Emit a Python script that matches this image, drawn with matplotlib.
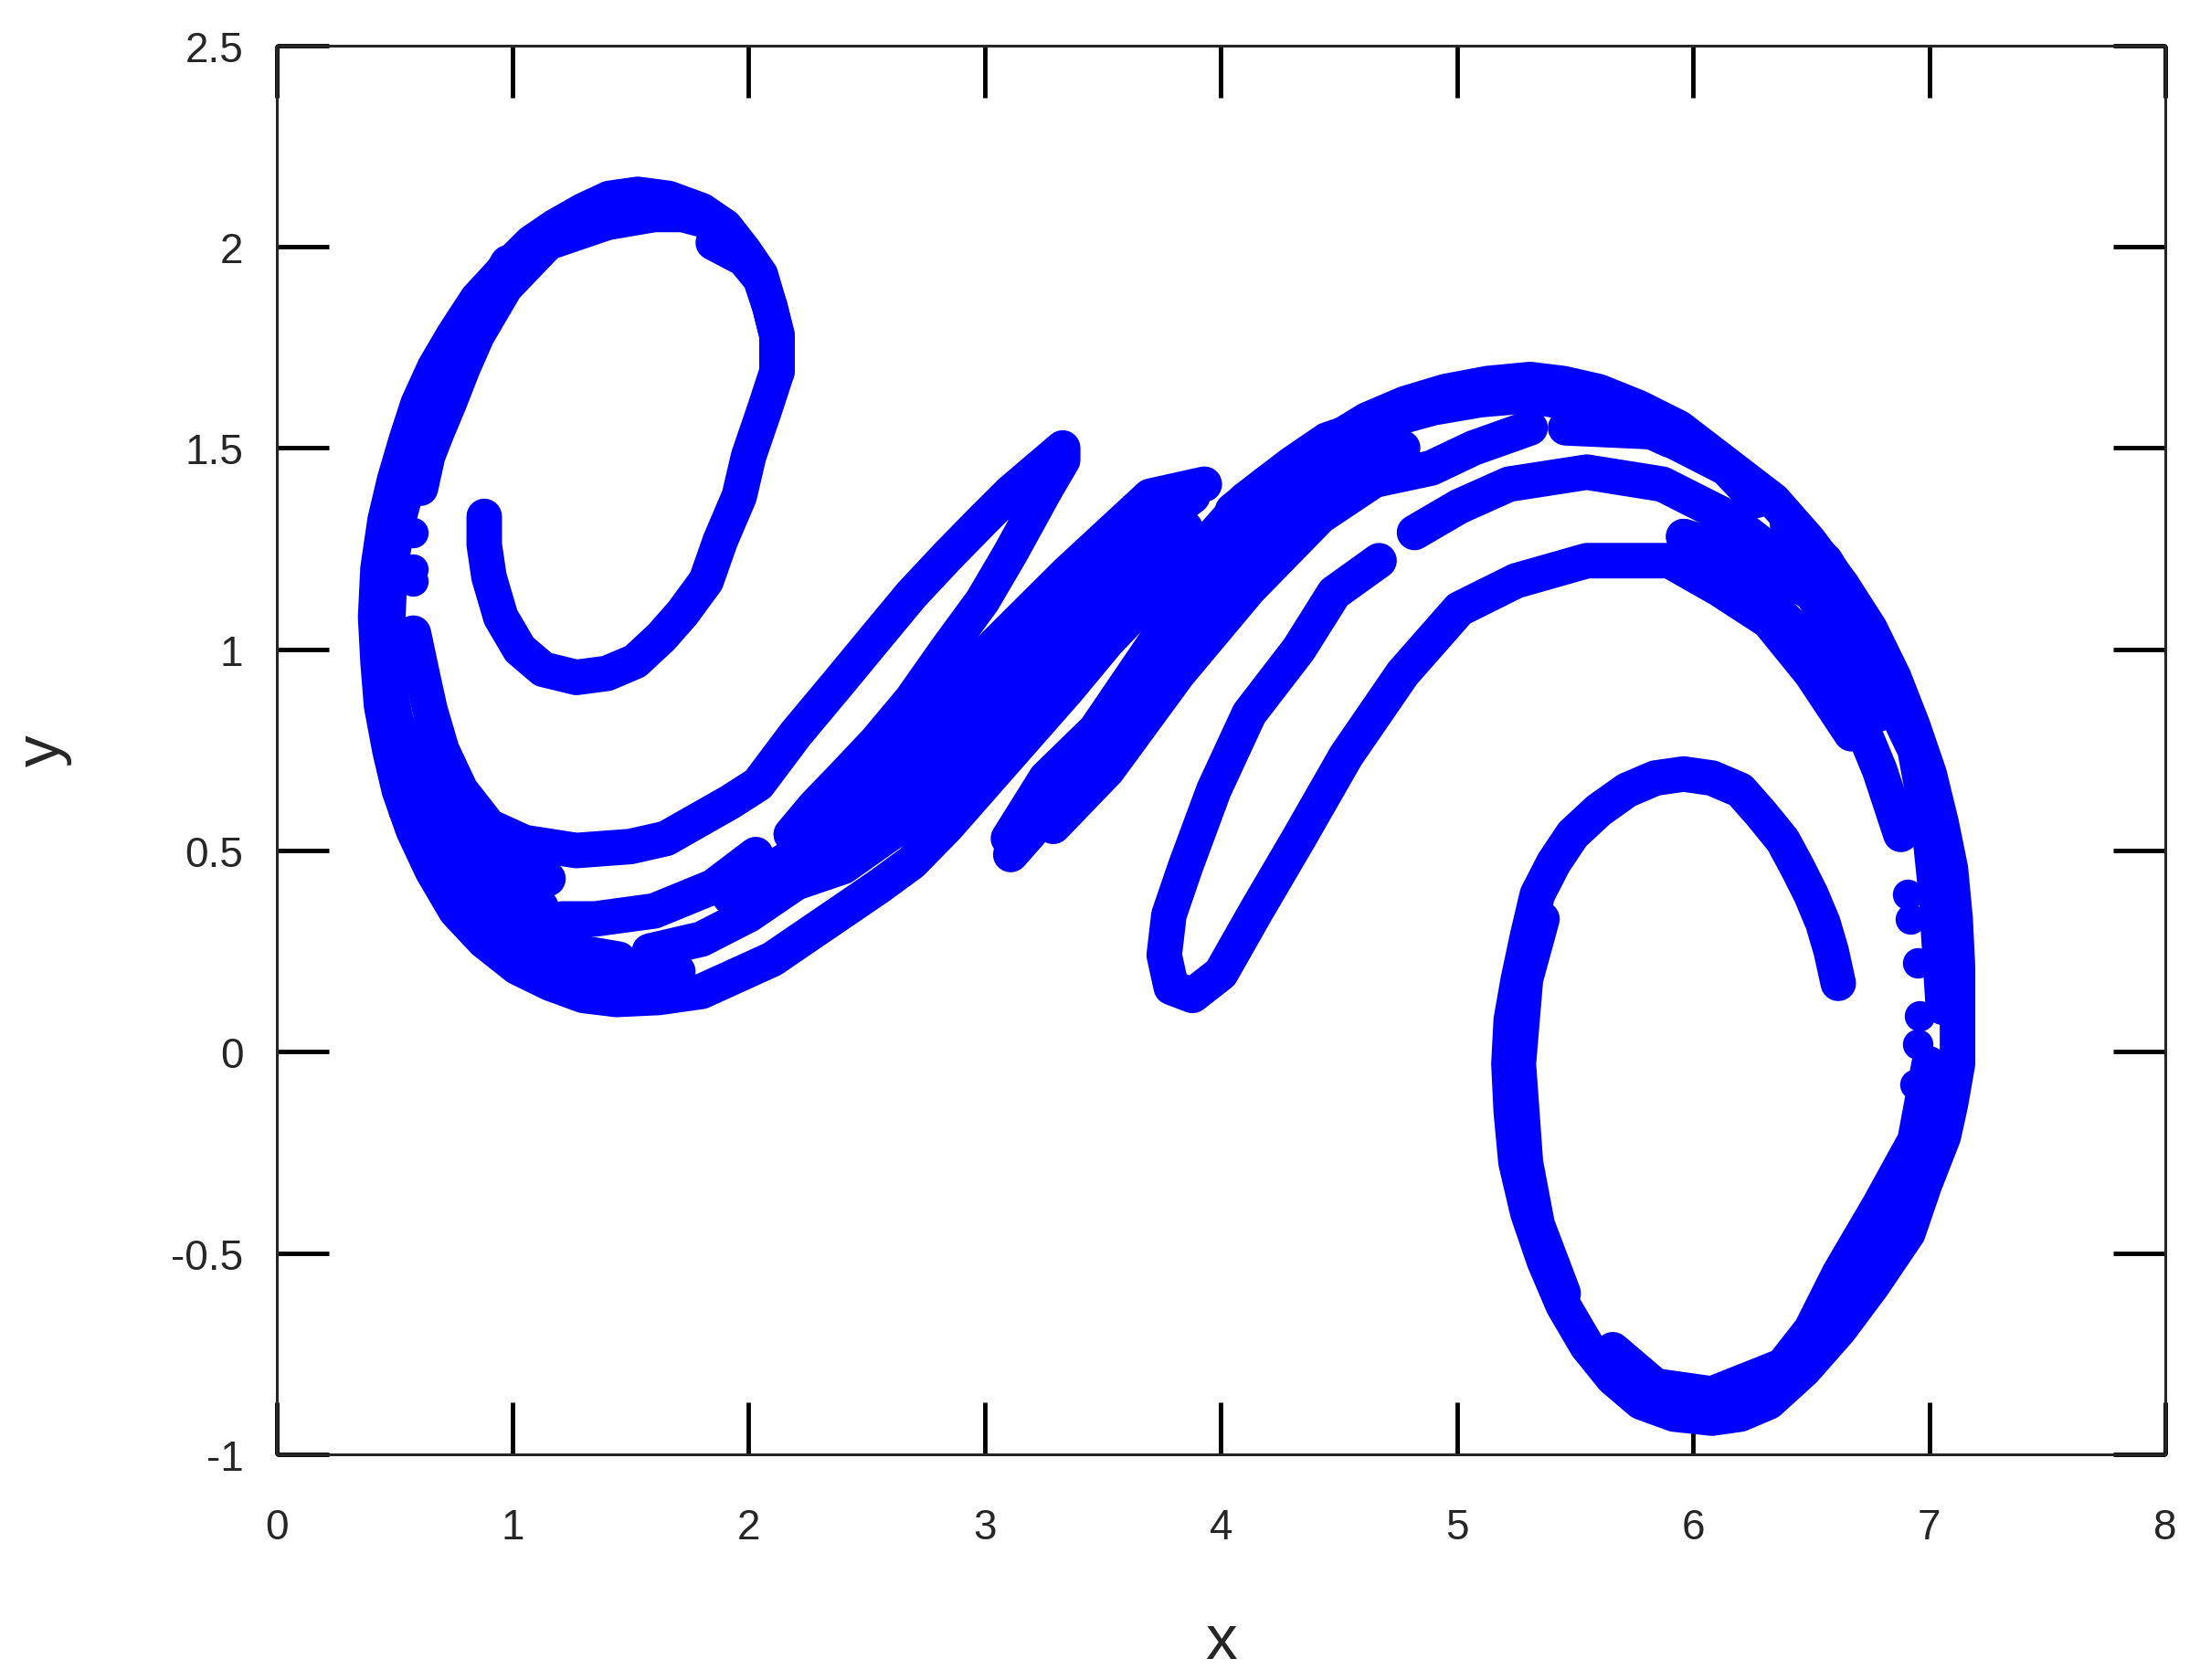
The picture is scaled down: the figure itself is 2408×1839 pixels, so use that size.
import matplotlib
matplotlib.use("Agg")
import matplotlib.pyplot as plt

plt.rcParams['font.family'] = ['Liberation Sans', 'DejaVu Sans']

xticks = [0, 1, 2, 3, 4, 5, 6, 7, 8]
yticks = [-1, -0.5, 0, 0.5, 1, 1.5, 2, 2.5]
ytick_labels = ["-1", "-0.5", "0", "0.5", "1", "1.5", "2", "2.5"]

# filaments, (x, y)
spiral_left = [(0.88,1.33),(0.88,1.26),(0.9,1.18),(0.95,1.08),(1.03,1.0),(1.13,0.95),(1.27,0.93),(1.4,0.94),
    (1.52,0.97),(1.63,1.03),(1.72,1.09),(1.82,1.17),(1.88,1.27),(1.96,1.38),(2.0,1.48),(2.07,1.6),(2.12,1.69),
    (2.12,1.78),(2.09,1.85),(2.05,1.92),(1.98,1.97),(1.85,2.01)]
ring_outer = [(2.12,1.69),(2.12,1.78),(2.09,1.85),(2.05,1.93),(1.98,1.99),(1.9,2.05),(1.8,2.09),(1.66,2.12),(1.53,2.13),
    (1.41,2.12),(1.30,2.09),(1.18,2.05),(1.08,2.01),(0.96,1.94),(0.85,1.87),(0.75,1.78),(0.67,1.70),(0.6,1.61),
    (0.55,1.52),(0.5,1.42),(0.46,1.32),(0.43,1.2),(0.42,1.08),(0.43,0.97),(0.445,0.86),(0.48,0.75),(0.52,0.65),
    (0.58,0.55),(0.66,0.45),(0.76,0.35),(0.88,0.275),(1.02,0.21),(1.16,0.17),(1.3,0.14),(1.44,0.13),(1.62,0.135),
    (1.80,0.15),(1.95,0.19),(2.10,0.23),(2.25,0.29),(2.40,0.35),(2.55,0.41),(2.69,0.47),(2.84,0.56),(2.99,0.66),
    (3.17,0.78),(3.35,0.90),(3.52,1.02),(3.70,1.13),(3.88,1.25)]
ring_inner = [(1.85,2.06),(1.72,2.08),(1.6,2.08),(1.4,2.06),(1.25,2.03),(1.15,2.01),(0.97,1.90),(0.85,1.78),(0.79,1.70),
    (0.73,1.61),(0.68,1.54),(0.64,1.48),(0.61,1.40)]
ring_second = [(0.98,1.96),(0.82,1.8),(0.7,1.64),(0.6,1.5),(0.52,1.33),(0.48,1.2),(0.47,1.05),(0.48,0.9),(0.54,0.72),(0.65,0.53),
    (0.82,0.36),(1.0,0.26),(1.2,0.2),(1.45,0.19),(1.7,0.2)]
arm_one = [(0.58,1.04),(0.62,0.93),(0.65,0.85),(0.7,0.75),(0.78,0.65),(0.9,0.56),(1.05,0.52),(1.27,0.50),(1.50,0.51),
    (1.65,0.53),(1.8,0.58),(1.92,0.62),(2.04,0.665),(2.2,0.79),(2.395,0.927),(2.54,1.03),(2.69,1.136),(2.84,1.23),
    (2.99,1.32),(3.11,1.39),(3.23,1.45),(3.33,1.50),(3.33,1.47),(3.26,1.40),(3.11,1.24),(2.99,1.12),(2.84,1.0),
    (2.69,0.875),(2.54,0.77),(2.395,0.68),(2.28,0.61),(2.18,0.54)]
arm_two = [(2.03,0.49),(1.85,0.41),(1.6,0.35),(1.35,0.33),(1.21,0.33)]
arm_three = [(1.15,0.43),(1.0,0.47),(0.85,0.55),(0.72,0.68),(0.63,0.8)]
arm_four = [(1.12,0.36),(0.95,0.42),(0.8,0.52),(0.7,0.6),(0.6,0.75)]
arm_five = [(1.45,0.23),(1.25,0.25),(1.05,0.29),(0.85,0.36),(0.7,0.45),(0.55,0.6),(0.47,0.8)]
left_dots = [(0.58,1.29),(0.58,1.2),(0.58,1.17)]
band_low = [(1.58,0.25),(1.8,0.28),(2.0,0.34),(2.2,0.42),(2.4,0.46),(2.69,0.58),(2.99,0.76),(3.35,1.0),(3.7,1.21),(3.85,1.3)]
band_up = [(1.92,0.385),(2.22,0.5),(2.45,0.64),(2.69,0.79),(2.99,0.98),(3.35,1.19),(3.70,1.38),(3.93,1.41)]
band_mid = [(2.2,0.44),(2.4,0.52),(2.69,0.69),(2.99,0.87),(3.35,1.1),(3.7,1.3),(3.88,1.38)]
lobe_low = [(3.11,0.49),(3.35,0.65),(3.64,0.91),(3.94,1.14),(4.24,1.31),(4.53,1.40),(4.77,1.50)]
lobe_up = [(3.10,0.53),(3.26,0.68),(3.47,0.80),(3.76,1.05),(4.06,1.24),(4.36,1.40),(4.65,1.54)]
lobe_side = [(3.29,0.56),(3.52,0.70),(3.82,0.94),(4.12,1.15),(4.42,1.33),(4.65,1.42),(4.89,1.45),(5.07,1.50),(5.31,1.55)]
top_inner = [(3.95,1.27),(4.1,1.37),(4.3,1.46),(4.45,1.52),(4.65,1.56),(4.9,1.6),(5.1,1.62),(5.3,1.63),(5.6,1.6),(5.9,1.52)]
big_arc = [(4.05,1.345),(4.19,1.41),(4.33,1.47),(4.48,1.52),(4.62,1.57),(4.78,1.61),(4.95,1.64),(5.13,1.66),(5.31,1.67),
    (5.45,1.66),(5.60,1.64),(5.77,1.6),(5.94,1.55),(6.14,1.46),(6.34,1.37),(6.49,1.27),(6.63,1.16),(6.75,1.05),(6.85,0.93),
    (6.93,0.81),(7.0,0.69),(7.05,0.57),(7.09,0.455),(7.11,0.33),(7.12,0.21),(7.12,0.09),(7.12,-0.03),(7.09,-0.13),(7.06,-0.21),
    (6.98,-0.33),(6.91,-0.45),(6.76,-0.58),(6.62,-0.69),(6.47,-0.79),(6.32,-0.87),(6.2,-0.9),(6.08,-0.91),(5.92,-0.9),
    (5.78,-0.87),(5.66,-0.81),(5.55,-0.73),(5.45,-0.63),(5.37,-0.52),(5.3,-0.4),(5.25,-0.275),(5.23,-0.15),(5.22,-0.03),
    (5.23,0.08),(5.26,0.18),(5.3,0.29),(5.34,0.39),(5.41,0.47),(5.49,0.54),(5.6,0.6),(5.72,0.65),(5.84,0.68),(5.96,0.69),
    (6.08,0.68),(6.2,0.65),(6.29,0.59),(6.38,0.525),(6.44,0.46),(6.5,0.39),(6.55,0.32),(6.585,0.25),(6.615,0.17)]
ring_right_in = [(7.0,-0.03),(6.94,-0.22),(6.79,-0.38),(6.62,-0.55),(6.5,-0.69),(6.38,-0.78),(6.08,-0.85),(5.84,-0.83),(5.66,-0.74)]
ring_right_mid = [(7.05,-0.1),(6.98,-0.3),(6.82,-0.5),(6.6,-0.65),(6.4,-0.8),(6.1,-0.88)]
ring_right_left = [(5.45,-0.6),(5.34,-0.43),(5.29,-0.275),(5.26,-0.03),(5.29,0.18),(5.36,0.33)]
second_a = [(5.46,1.55),(5.84,1.54),(6.14,1.45),(6.27,1.37)]
second_b = [(6.4,1.31),(6.56,1.22),(6.76,1.03),(6.85,0.86),(6.94,0.75),(7.0,0.56),(7.03,0.39),(7.06,0.11)]
third = [(4.82,1.29),(5.01,1.355),(5.22,1.41),(5.55,1.44),(5.87,1.41),(6.14,1.33),(6.38,1.22),(6.56,1.12)]
fourth = [(4.67,1.22),(4.48,1.14),(4.33,1.0),(4.12,0.84),(3.97,0.65),(3.85,0.46),(3.78,0.34),(3.76,0.24),(3.79,0.16),(3.88,0.14),
    (4.0,0.195),(4.15,0.35),(4.33,0.53),(4.53,0.735),(4.77,0.94),(5.01,1.10),(5.25,1.17),(5.55,1.22),(5.9,1.22),
    (6.11,1.15),(6.32,1.07),(6.5,0.94),(6.67,0.79)]
fifth_low = [(5.96,1.28),(6.2,1.19),(6.38,1.08),(6.56,0.98),(6.67,0.87),(6.79,0.70),(6.88,0.54)]
fifth_up = [(5.96,1.28),(6.2,1.24),(6.5,1.14),(6.67,1.0),(6.79,0.84)]
right_dots = [(6.91,0.39),(6.92,0.33),(6.95,0.22),(6.96,0.09),(6.95,0.02),(6.94,-0.08)]

strands = [spiral_left, ring_outer, ring_inner, ring_second, arm_one, arm_two, arm_three, arm_four, arm_five,
           band_low, band_up, band_mid, lobe_low, lobe_up, lobe_side, top_inner, big_arc,
           ring_right_in, ring_right_mid, ring_right_left, second_a, second_b, third, fourth, fifth_low, fifth_up]
dots = [left_dots, right_dots]

fig = plt.figure(figsize=(24.08, 18.4), dpi=100)
ax = fig.add_axes([302.6/2408, 1-1593/1840, (2370-302.6)/2408, (1593-50.7)/1840])

for s in strands:
    xs, ys = zip(*s)
    ax.plot(xs, ys, '-', color='#0000ff', linewidth=28, solid_capstyle='round', solid_joinstyle='round')
for s in dots:
    xs, ys = zip(*s)
    ax.plot(xs, ys, 'o', color='#0000ff', markersize=24, markeredgewidth=0)

ax.set_xlim(0, 8)
ax.set_ylim(-1, 2.5)
ax.set_xticks(xticks)
ax.set_yticks(yticks)
ax.set_yticklabels(ytick_labels)
ax.tick_params(axis='both', which='major', direction='in', top=True, right=True,
               length=41, width=3.5, color='black', labelsize=33, labelcolor='#262626')
ax.tick_params(axis='x', pad=42)
ax.tick_params(axis='y', pad=26)
for sp in ax.spines.values():
    sp.set_linewidth(2.2)
    sp.set_color('#262626')

ax.set_xlabel("x", fontsize=50, color='#262626', labelpad=51)
ax.set_ylabel("y", fontsize=50, color='#262626', labelpad=78)

fig.savefig("out.png", dpi=100, facecolor='white')
